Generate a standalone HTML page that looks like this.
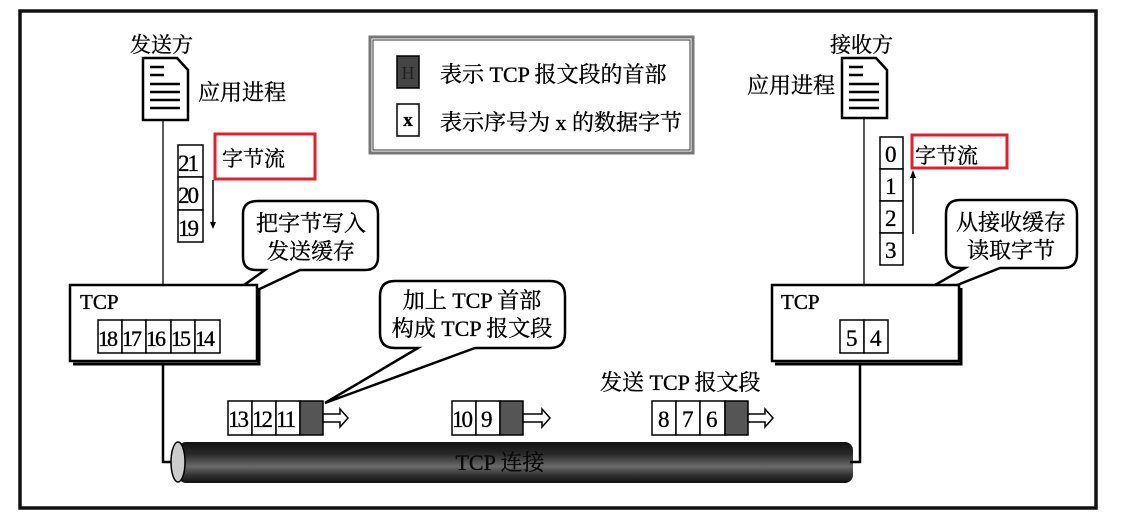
<!DOCTYPE html>
<html><head><meta charset="utf-8"><style>
html,body{margin:0;padding:0;background:#fff;}
svg{display:block;}
text{font-family:"Liberation Serif","Noto Serif CJK SC","Noto Sans CJK SC",serif;fill:#000;stroke:#000;stroke-width:0.35px;}
</style></head><body>
<svg width="1127" height="519" viewBox="0 0 1127 519" xmlns="http://www.w3.org/2000/svg">
<defs>
<linearGradient id="pipe" x1="0" y1="0" x2="0" y2="1">
<stop offset="0" stop-color="#111"/><stop offset="0.3" stop-color="#2a2a2a"/><stop offset="0.6" stop-color="#6a6a6a"/><stop offset="0.8" stop-color="#333"/><stop offset="1" stop-color="#111"/>
</linearGradient>
</defs>
<rect x="20" y="11" width="1076" height="497" fill="none" stroke="#111" stroke-width="3.5"/>

<!-- sender -->
<text x="130" y="52" font-size="21">发送方</text>
<path d="M143 58 H177 L188 70 V120 H143 Z" fill="#fff" stroke="#000" stroke-width="2.5"/>
<path d="M150 67h14M150 75h14M150 84h30M150 92h30M150 100h30M150 108h30" stroke="#000" stroke-width="2.5"/>
<text x="198" y="100" font-size="22">应用进程</text>
<line x1="163" y1="120" x2="163" y2="286" stroke="#000" stroke-width="1.3"/>
<g stroke="#000" stroke-width="1.5" fill="#fff">
<rect x="178" y="145" width="25" height="32"/><rect x="178" y="177" width="25" height="33"/><rect x="178" y="210" width="25" height="32"/>
</g>
<g font-size="23" letter-spacing="-2"><text x="178" y="171">21</text><text x="178" y="203">20</text><text x="178" y="236">19</text></g>
<line x1="213" y1="180" x2="213" y2="224" stroke="#000" stroke-width="1.5"/>
<path d="M210 222 L216 222 L213 229 Z" fill="#000"/>
<rect x="215" y="134" width="100" height="45" fill="none" stroke="#e0202a" stroke-width="3"/>
<text x="222" y="166" font-size="21">字节流</text>

<!-- callout 1 -->
<path d="M258 201 H365 Q378 201 378 214 V257 Q378 270 365 270 H300 L198 318 L265 270 H256 Q243 270 243 257 V214 Q243 201 258 201 Z" fill="#fff" stroke="#000" stroke-width="2.5"/>
<text x="311" y="231" font-size="22" text-anchor="middle">把字节写入</text>
<text x="311" y="259" font-size="22" text-anchor="middle">发送缓存</text>

<!-- TCP box left -->
<rect x="70" y="285" width="187" height="76" fill="#fff" stroke="#000" stroke-width="2.5"/>
<path d="M259 288 V364 H73" fill="none" stroke="#000" stroke-width="3"/>
<text x="80" y="309" font-size="21">TCP</text>
<g stroke="#000" stroke-width="1.5" fill="#fff">
<rect x="98" y="320" width="24" height="33"/><rect x="122" y="320" width="24" height="33"/><rect x="146" y="320" width="25" height="33"/><rect x="171" y="320" width="24" height="33"/><rect x="195" y="320" width="25" height="33"/>
</g>
<g font-size="22" letter-spacing="-2"><text x="98" y="346">18</text><text x="122" y="346">17</text><text x="146" y="346">16</text><text x="171" y="346">15</text><text x="195" y="346">14</text></g>
<path d="M163 364 V462 H180" fill="none" stroke="#000" stroke-width="2.5"/>

<!-- legend -->
<rect x="370" y="37" width="323" height="116" fill="#fff" stroke="#777" stroke-width="3"/>
<rect x="373" y="40" width="317" height="110" fill="none" stroke="#333" stroke-width="1"/>
<rect x="397" y="56" width="22" height="32" fill="#444" stroke="#000" stroke-width="1.5"/>
<text x="408" y="79" font-size="18" text-anchor="middle" style="fill:#222;stroke:none">H</text>
<rect x="397" y="104" width="22" height="32" fill="#fff" stroke="#000" stroke-width="1.5"/>
<text x="408" y="126" font-size="19" text-anchor="middle" font-weight="bold">x</text>
<text x="440" y="82" font-size="22">表示 TCP 报文段的首部</text>
<text x="440" y="130" font-size="22">表示序号为 x 的数据字节</text>

<!-- callout 2 -->
<path d="M395 281 H550 Q565 281 565 296 V333 Q565 348 550 348 H475 L325 403 L418 348 H395 Q380 348 380 333 V296 Q380 281 395 281 Z" fill="#fff" stroke="#000" stroke-width="2.5"/>
<text x="472" y="308" font-size="22" text-anchor="middle">加上 TCP 首部</text>
<text x="472" y="336" font-size="22" text-anchor="middle">构成 TCP 报文段</text>

<!-- segments -->
<g stroke="#000" stroke-width="1.5">
<rect x="228" y="401" width="24" height="34" fill="#fff"/><rect x="252" y="401" width="24" height="34" fill="#fff"/><rect x="276" y="401" width="24" height="34" fill="#fff"/><rect x="300" y="401" width="23" height="34" fill="#555"/>
<rect x="452" y="401" width="24" height="34" fill="#fff"/><rect x="476" y="401" width="24" height="34" fill="#fff"/><rect x="500" y="401" width="23" height="34" fill="#555"/>
<rect x="652" y="401" width="24" height="34" fill="#fff"/><rect x="676" y="401" width="24" height="34" fill="#fff"/><rect x="700" y="401" width="25" height="34" fill="#fff"/><rect x="725" y="401" width="23" height="34" fill="#555"/>
</g>
<g font-size="23" letter-spacing="-2"><text x="228" y="427">13</text><text x="252" y="427">12</text><text x="276" y="427">11</text>
<text x="452" y="427">10</text><text x="481" y="427">9</text>
<text x="658" y="427">8</text><text x="682" y="427">7</text><text x="706" y="427">6</text></g>
<g fill="#fff" stroke="#000" stroke-width="1.5">
<path d="M323 414 H340 V409 L348 418 L340 427 V422 H323 Z"/>
<path d="M523 414 H542 V409 L550 418 L542 427 V422 H523 Z"/>
<path d="M748 414 H765 V409 L773 418 L765 427 V422 H748 Z"/>
</g>
<text x="600" y="390" font-size="22">发送 TCP 报文段</text>

<!-- pipe -->
<rect x="178" y="442" width="675" height="41" rx="8" fill="url(#pipe)"/>
<ellipse cx="178" cy="462" rx="7" ry="20" fill="#ccc" stroke="#000" stroke-width="1.5"/>
<text x="500" y="470" font-size="22" text-anchor="middle" style="fill:#0a0a0a;stroke:#0a0a0a">TCP 连接</text>

<!-- receiver -->
<text x="830" y="52" font-size="21">接收方</text>
<path d="M842 58 H876 L887 70 V118 H842 Z" fill="#fff" stroke="#000" stroke-width="2.5"/>
<path d="M849 67h14M849 75h14M849 84h30M849 92h30M849 100h30M849 108h30" stroke="#000" stroke-width="2.5"/>
<text x="747" y="93" font-size="22">应用进程</text>
<line x1="864" y1="118" x2="864" y2="286" stroke="#000" stroke-width="1.3"/>
<g stroke="#000" stroke-width="1.5" fill="#fff">
<rect x="880" y="137" width="23" height="32"/><rect x="880" y="169" width="23" height="32"/><rect x="880" y="201" width="23" height="32"/><rect x="880" y="233" width="23" height="32"/>
</g>
<g font-size="23"><text x="885" y="162">0</text><text x="885" y="194">1</text><text x="885" y="226">2</text><text x="885" y="258">3</text></g>
<line x1="913" y1="234" x2="913" y2="176" stroke="#000" stroke-width="1.5"/>
<path d="M910 178 L916 178 L913 170 Z" fill="#000"/>
<rect x="912" y="135" width="95" height="33" fill="none" stroke="#e0202a" stroke-width="3"/>
<text x="915" y="163" font-size="21">字节流</text>

<!-- callout 3 -->
<path d="M960 200 H1063 Q1077 200 1077 214 V254 Q1077 268 1063 268 H1000 L882 315 L965 268 H960 Q946 268 946 254 V214 Q946 200 960 200 Z" fill="#fff" stroke="#000" stroke-width="2.5"/>
<text x="1011" y="230" font-size="22" text-anchor="middle">从接收缓存</text>
<text x="1011" y="258" font-size="22" text-anchor="middle">读取字节</text>

<!-- TCP box right -->
<rect x="772" y="285" width="187" height="76" fill="#fff" stroke="#000" stroke-width="2.5"/>
<path d="M961 288 V364 H775" fill="none" stroke="#000" stroke-width="3"/>
<text x="781" y="309" font-size="21">TCP</text>
<g stroke="#000" stroke-width="1.5" fill="#fff"><rect x="840" y="320" width="24" height="33"/><rect x="864" y="320" width="24" height="33"/></g>
<g font-size="23"><text x="846" y="346">5</text><text x="870" y="346">4</text></g>
<path d="M860 364 V462 H850" fill="none" stroke="#000" stroke-width="2.5"/>
</svg>
</body></html>
